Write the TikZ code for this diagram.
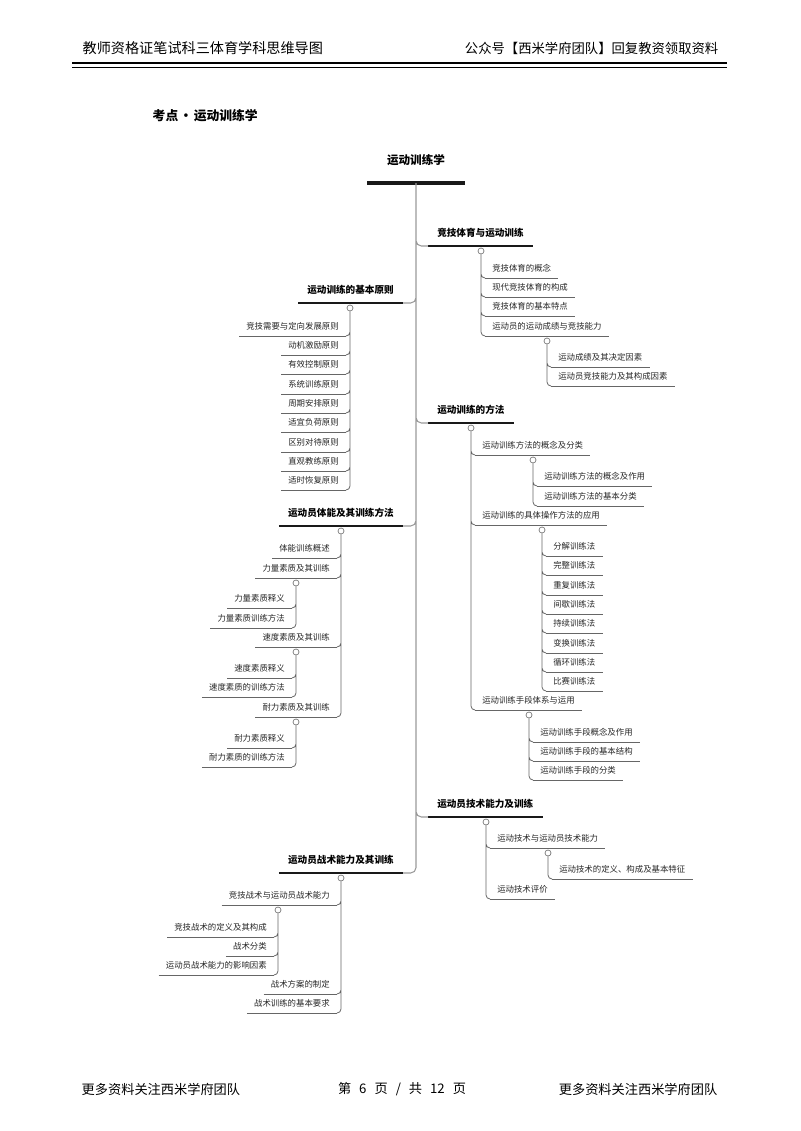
\documentclass[tikz,border=0pt]{standalone}
\usepackage{fontspec}
\setmainfont{Noto Sans CJK SC}
\usepackage{tikz}

\tikzset{
  trunk/.style={draw=black!40, line width=0.8pt, rounded corners=4pt},
  twig/.style={draw=black!60, line width=0.6pt, rounded corners=3pt},
  leaf/.style={font=\fontsize{6.3}{7}\selectfont, text=black!85, inner xsep=5.25pt, inner ysep=3.4pt,
    text height=4.7pt, text depth=1.3pt,
    append after command={(\tikzlastnode.south west) edge[twig] (\tikzlastnode.south east)}},
  rleaf/.style={leaf, anchor=south west},
  lleaf/.style={leaf, anchor=south east},
  topic/.style={font=\bfseries\fontsize{7.2}{8}\selectfont, inner xsep=6.75pt, inner ysep=5.5pt,
    text height=5.4pt, text depth=1.5pt,
    append after command={(\tikzlastnode.south west) edge[draw=black!90, line width=2.2pt] (\tikzlastnode.south east)}},
  rtopic/.style={topic, anchor=south west},
  ltopic/.style={topic, anchor=south east},
  rootbox/.style={font=\bfseries\fontsize{8.7}{10}\selectfont, anchor=south, minimum width=72.75pt,
    inner ysep=12.1pt, text height=6.5pt, text depth=1.8pt,
    append after command={(\tikzlastnode.south west) edge[draw=black!90, line width=3pt] (\tikzlastnode.south east)}},
  knob/.style={circle, draw=black!55, fill=white, line width=0.5pt, inner sep=0pt, minimum size=4.5pt},
}

\begin{document}
\begin{tikzpicture}[x=0.75pt, y=-0.75pt]
    \useasboundingbox (0,0) rectangle (800,1131);

    % header and footer
    \node[anchor=west, font=\fontsize{10.6}{12}\selectfont] (head-l) at (78,48) {教师资格证笔试科三体育学科思维导图};
    \node[anchor=east, font=\fontsize{10}{12}\selectfont] (head-r) at (723,48) {公众号【西米学府团队】回复教资领取资料};
    \draw[line width=1.6pt] (72,63) -- (727,63);
    \draw[line width=0.5pt] (72,67) -- (727,67);
    \node[anchor=west, font=\fontsize{9.9}{12}\selectfont] (foot-l) at (77,1089) {更多资料关注西米学府团队};
    \node[font=\fontsize{9.9}{12}\selectfont] (foot-c) at (402,1089)
        {第\hspace{6pt}6\hspace{6pt}页\hspace{6pt}/\hspace{6pt}共\hspace{6pt}12\hspace{6pt}页};
    \node[anchor=east, font=\fontsize{9.9}{12}\selectfont] (foot-r) at (722,1089) {更多资料关注西米学府团队};

    \node[anchor=west, font=\bfseries\fontsize{9.6}{12}\selectfont] (point) at (148,116)
        {考点\hspace{1pt}•\hspace{1pt}运动训练学};

    % root
    \node[rootbox] (root) at (416,183) {运动训练学};

    % right: 竞技体育与运动训练
    \node[rtopic] (sport) at (428,246) {竞技体育与运动训练};
    \node[knob] (sport-k) at (481,251) {};
    \node[rleaf] (sport1) at (485,278) {竞技体育的概念};
    \node[rleaf] (sport2) at (485,297) {现代竞技体育的构成};
    \node[rleaf] (sport3) at (485,316) {竞技体育的基本特点};
    \node[rleaf] (sport4) at (485,336) {运动员的运动成绩与竞技能力};
    \node[knob] (sport4-k) at (547,341) {};
    \node[rleaf] (sport41) at (551,367) {运动成绩及其决定因素};
    \node[rleaf] (sport42) at (551,386) {运动员竞技能力及其构成因素};

    % right: 运动训练的方法
    \node[rtopic] (method) at (428,423) {运动训练的方法};
    \node[knob] (method-k) at (471,428) {};
    \node[rleaf] (method1) at (475,455) {运动训练方法的概念及分类};
    \node[knob] (method1-k) at (533,460) {};
    \node[rleaf] (method11) at (537,486) {运动训练方法的概念及作用};
    \node[rleaf] (method12) at (537,506) {运动训练方法的基本分类};
    \node[rleaf] (method2) at (475,525) {运动训练的具体操作方法的应用};
    \node[knob] (method2-k) at (542,530) {};
    \node[rleaf] (method21) at (546,556) {分解训练法};
    \node[rleaf] (method22) at (546,575) {完整训练法};
    \node[rleaf] (method23) at (546,595) {重复训练法};
    \node[rleaf] (method24) at (546,614) {间歇训练法};
    \node[rleaf] (method25) at (546,633) {持续训练法};
    \node[rleaf] (method26) at (546,653) {变换训练法};
    \node[rleaf] (method27) at (546,672) {循环训练法};
    \node[rleaf] (method28) at (546,691) {比赛训练法};
    \node[rleaf] (method3) at (475,710) {运动训练手段体系与运用};
    \node[knob] (method3-k) at (529,715) {};
    \node[rleaf] (method31) at (533,742) {运动训练手段概念及作用};
    \node[rleaf] (method32) at (533,761) {运动训练手段的基本结构};
    \node[rleaf] (method33) at (533,780) {运动训练手段的分类};

    % right: 运动员技术能力及训练
    \node[rtopic] (tech) at (428,817) {运动员技术能力及训练};
    \node[knob] (tech-k) at (486,822) {};
    \node[rleaf] (tech1) at (490,848) {运动技术与运动员技术能力};
    \node[knob] (tech1-k) at (548,853) {};
    \node[rleaf] (tech11) at (552,879) {运动技术的定义、构成及基本特征};
    \node[rleaf] (tech2) at (490,899) {运动技术评价};

    % left: 运动训练的基本原则
    \node[ltopic] (rule) at (403,303) {运动训练的基本原则};
    \node[knob] (rule-k) at (350,308) {};
    \node[lleaf] (rule1) at (346,336) {竞技需要与定向发展原则};
    \node[lleaf] (rule2) at (346,355) {动机激励原则};
    \node[lleaf] (rule3) at (346,374) {有效控制原则};
    \node[lleaf] (rule4) at (346,394) {系统训练原则};
    \node[lleaf] (rule5) at (346,413) {周期安排原则};
    \node[lleaf] (rule6) at (346,432) {适宜负荷原则};
    \node[lleaf] (rule7) at (346,452) {区别对待原则};
    \node[lleaf] (rule8) at (346,471) {直观教练原则};
    \node[lleaf] (rule9) at (346,490) {适时恢复原则};

    % left: 运动员体能及其训练方法
    \node[ltopic] (fit) at (403,526) {运动员体能及其训练方法};
    \node[knob] (fit-k) at (341,531) {};
    \node[lleaf] (fit1) at (337,558) {体能训练概述};
    \node[lleaf] (fit2) at (337,578) {力量素质及其训练};
    \node[knob] (fit2-k) at (296,583) {};
    \node[lleaf] (fit21) at (292,608) {力量素质释义};
    \node[lleaf] (fit22) at (292,628) {力量素质训练方法};
    \node[lleaf] (fit3) at (337,647) {速度素质及其训练};
    \node[knob] (fit3-k) at (296,652) {};
    \node[lleaf] (fit31) at (292,678) {速度素质释义};
    \node[lleaf] (fit32) at (292,697) {速度素质的训练方法};
    \node[lleaf] (fit4) at (337,717) {耐力素质及其训练};
    \node[knob] (fit4-k) at (296,722) {};
    \node[lleaf] (fit41) at (292,748) {耐力素质释义};
    \node[lleaf] (fit42) at (292,767) {耐力素质的训练方法};

    % left: 运动员战术能力及其训练
    \node[ltopic] (tactic) at (403,873) {运动员战术能力及其训练};
    \node[knob] (tactic-k) at (341,878) {};
    \node[lleaf] (tactic1) at (337,905) {竞技战术与运动员战术能力};
    \node[knob] (tactic1-k) at (278,910) {};
    \node[lleaf] (tactic11) at (274,937) {竞技战术的定义及其构成};
    \node[lleaf] (tactic12) at (274,956) {战术分类};
    \node[lleaf] (tactic13) at (274,975) {运动员战术能力的影响因素};
    \node[lleaf] (tactic2) at (337,994) {战术方案的制定};
    \node[lleaf] (tactic3) at (337,1013) {战术训练的基本要求};

    % trunk
    \draw[trunk] (root.south) |- (sport.south west) (root.south) |- (method.south west)
        (root.south) |- (tech.south west) (root.south) |- (rule.south east)
        (root.south) |- (fit.south east) (root.south) |- (tactic.south east);

    % twigs on the right
    \draw[twig] (sport-k.south) |- (sport1.south west) (sport-k.south) |- (sport2.south west)
        (sport-k.south) |- (sport3.south west) (sport-k.south) |- (sport4.south west);
    \draw[twig] (sport4-k.south) |- (sport41.south west) (sport4-k.south) |- (sport42.south west);
    \draw[twig] (method-k.south) |- (method1.south west) (method-k.south) |- (method2.south west)
        (method-k.south) |- (method3.south west);
    \draw[twig] (method1-k.south) |- (method11.south west) (method1-k.south) |- (method12.south west);
    \draw[twig] (method2-k.south) |- (method21.south west) (method2-k.south) |- (method22.south west)
        (method2-k.south) |- (method23.south west) (method2-k.south) |- (method24.south west)
        (method2-k.south) |- (method25.south west) (method2-k.south) |- (method26.south west)
        (method2-k.south) |- (method27.south west) (method2-k.south) |- (method28.south west);
    \draw[twig] (method3-k.south) |- (method31.south west) (method3-k.south) |- (method32.south west)
        (method3-k.south) |- (method33.south west);
    \draw[twig] (tech-k.south) |- (tech1.south west) (tech-k.south) |- (tech2.south west);
    \draw[twig] (tech1-k.south) |- (tech11.south west);

    % twigs on the left
    \draw[twig] (rule-k.south) |- (rule1.south east) (rule-k.south) |- (rule2.south east)
        (rule-k.south) |- (rule3.south east) (rule-k.south) |- (rule4.south east)
        (rule-k.south) |- (rule5.south east) (rule-k.south) |- (rule6.south east)
        (rule-k.south) |- (rule7.south east) (rule-k.south) |- (rule8.south east)
        (rule-k.south) |- (rule9.south east);
    \draw[twig] (fit-k.south) |- (fit1.south east) (fit-k.south) |- (fit2.south east)
        (fit-k.south) |- (fit3.south east) (fit-k.south) |- (fit4.south east);
    \draw[twig] (fit2-k.south) |- (fit21.south east) (fit2-k.south) |- (fit22.south east);
    \draw[twig] (fit3-k.south) |- (fit31.south east) (fit3-k.south) |- (fit32.south east);
    \draw[twig] (fit4-k.south) |- (fit41.south east) (fit4-k.south) |- (fit42.south east);
    \draw[twig] (tactic-k.south) |- (tactic1.south east) (tactic-k.south) |- (tactic2.south east)
        (tactic-k.south) |- (tactic3.south east);
    \draw[twig] (tactic1-k.south) |- (tactic11.south east) (tactic1-k.south) |- (tactic12.south east)
        (tactic1-k.south) |- (tactic13.south east);
\end{tikzpicture}
\end{document}
